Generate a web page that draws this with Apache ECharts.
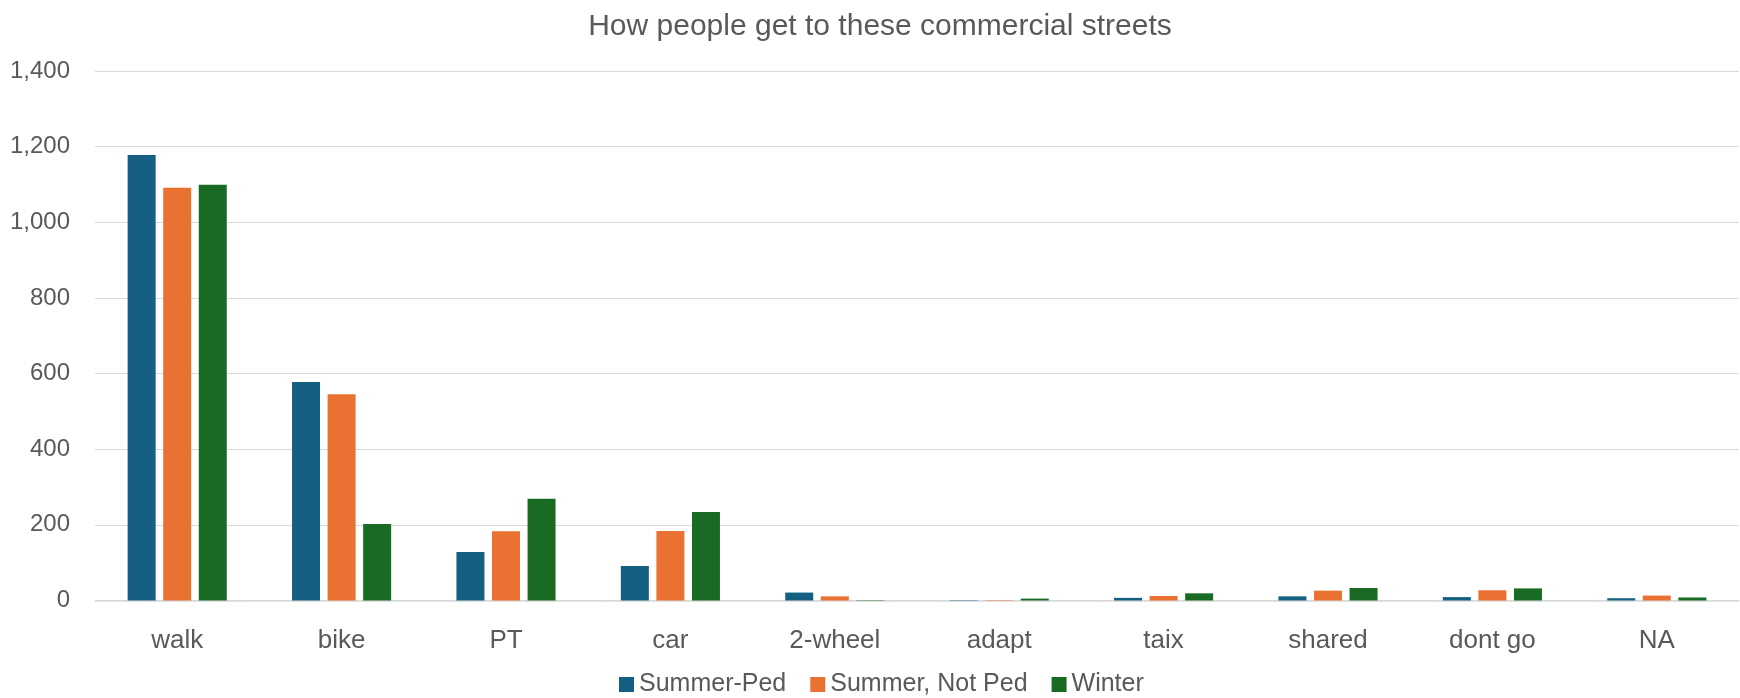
<!DOCTYPE html>
<html>
<head>
<meta charset="utf-8">
<script src="https://cdn.jsdelivr.net/npm/echarts@6/dist/echarts.min.js"></script>
<style>
html,body{margin:0;padding:0;background:#fff;}
#chart{width:1740px;height:698px;}
</style>
</head>
<body>
<div id="chart"></div>
<script>
const categories = ['walk', 'bike', 'PT', 'car', '2-wheel', 'adapt', 'taix', 'shared', 'dont go', 'NA'];
const summerPed = [1178, 578, 128, 91, 21, 1, 7, 11, 9, 6];
const summerNotPed = [1091, 545, 183, 184, 11, 1, 12, 26, 27, 13];
const winter = [1099, 202, 269, 234, 1, 5, 19, 33, 32, 8];
const seriesNames = ['Summer-Ped', 'Summer, Not Ped', 'Winter'];
const yTicks = [0, 200, 400, 600, 800, 1000, 1200, 1400];

const textColor = '#595959';
const fontFam = '"Liberation Sans", Arial, sans-serif';
const colors = ['#156082', '#E97132', '#196B24'];

const chart = echarts.init(document.getElementById('chart'));
chart.setOption({
  animation: false,
  backgroundColor: '#ffffff',
  color: colors,
  title: {
    text: 'How people get to these commercial streets',
    left: 875,
    textAlign: 'center',
    top: 7,
    textStyle: { color: textColor, fontSize: 30, fontWeight: 'normal', fontFamily: fontFam }
  },
  legend: {
    data: seriesNames,
    top: 667,
    left: 614,
    itemWidth: 15,
    itemHeight: 15,
    itemGap: 24,
    icon: 'rect',
    textStyle: { color: textColor, fontSize: 25, fontFamily: fontFam }
  },
  grid: { left: 95, right: 1, top: 71, bottom: 97.5, containLabel: false },
  xAxis: {
    type: 'category',
    data: categories,
    axisTick: { show: false },
    axisLine: { lineStyle: { color: '#d9d9d9', width: 1.5 } },
    axisLabel: { color: textColor, fontSize: 26, fontFamily: fontFam, margin: 27 }
  },
  yAxis: {
    type: 'value',
    min: yTicks[0],
    max: yTicks[yTicks.length - 1],
    interval: 200,
    axisLine: { show: false },
    axisTick: { show: false },
    splitLine: { lineStyle: { color: '#d9d9d9', width: 1 } },
    axisLabel: {
      color: textColor, fontSize: 24, fontFamily: fontFam, margin: 25,
      formatter: v => v.toLocaleString('en-US')
    }
  },
  series: [
    { name: seriesNames[0], type: 'bar', data: summerPed, barWidth: 28, barGap: '27%' },
    { name: seriesNames[1], type: 'bar', data: summerNotPed, barWidth: 28, barGap: '27%' },
    { name: seriesNames[2], type: 'bar', data: winter, barWidth: 28, barGap: '27%' }
  ]
});
</script>
</body>
</html>
